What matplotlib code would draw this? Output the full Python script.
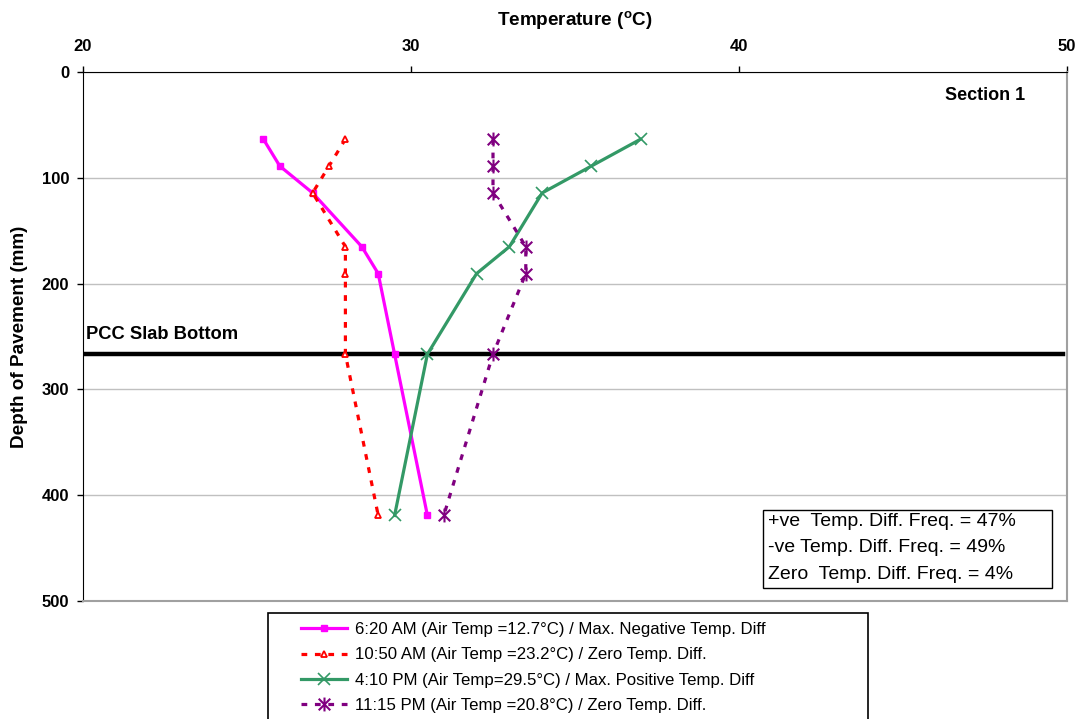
import matplotlib
matplotlib.use("Agg")
import matplotlib.pyplot as plt
from matplotlib.path import Path
from matplotlib.patches import Rectangle

plt.rcParams['font.family'] = ['Liberation Sans', 'DejaVu Sans']

# depths of the sensors (mm)
depth = [63.5, 88.9, 114.3, 165.1, 190.5, 266.7, 419.1]

temp_620am = [25.5, 26.0, 27.0, 28.5, 29.0, 29.5, 30.5]
temp_1050am = [28.0, 27.5, 27.0, 28.0, 28.0, 28.0, 29.0]
temp_410pm = [37.0, 35.5, 34.0, 33.0, 32.0, 30.5, 29.5]
temp_1115pm = [32.5, 32.5, 32.5, 33.5, 33.5, 32.5, 31.0]

labels = [
    "6:20 AM (Air Temp =12.7°C) / Max. Negative Temp. Diff",
    "10:50 AM (Air Temp =23.2°C) / Zero Temp. Diff.",
    "4:10 PM (Air Temp=29.5°C) / Max. Positive Temp. Diff",
    "11:15 PM (Air Temp =20.8°C) / Zero Temp. Diff.",
]

slab_bottom = 266.7
x_ticks = [20, 30, 40, 50]
y_ticks = [0, 100, 200, 300, 400, 500]
freq_text = "+ve  Temp. Diff. Freq. = 47%\n-ve Temp. Diff. Freq. = 49%\nZero  Temp. Diff. Freq. = 4%"

W, H = 1081, 719

# asterisk marker (x with a vertical bar) like the Excel star
star = Path([(-1, -1), (1, 1), (-1, 1), (1, -1), (0, -1.2), (0, 1.2)],
            [Path.MOVETO, Path.LINETO, Path.MOVETO, Path.LINETO, Path.MOVETO, Path.LINETO])

fig = plt.figure(figsize=(10.81, 7.19), dpi=100)
ax = fig.add_axes([83/W, 1 - 601/H, (1067 - 83)/W, (601 - 72)/H])

ax.plot(temp_620am, depth, color='#FF00FF', lw=2.3, marker='s', ms=5, label=labels[0])
ax.plot(temp_1050am, depth, color='#FF0000', lw=2.3, linestyle=(0, (1.8, 2.4)),
        marker='^', ms=5, mfc='white', mew=1.3, label=labels[1])
ax.plot(temp_410pm, depth, color='#339966', lw=2.3, marker='x', ms=9, mew=1.2, label=labels[2])
ax.plot(temp_1115pm, depth, color='#800080', lw=2.3, linestyle=(0, (1.8, 2.4)),
        marker=star, ms=10, mew=1.5, label=labels[3])

ax.axhline(slab_bottom, xmin=0, xmax=0.996, color='black', lw=3.2, zorder=1)
ax.text(20.1, slab_bottom - 11, "PCC Slab Bottom", fontsize=13.2, fontweight='bold', va='bottom')
ax.text(47.5, 22, "Section 1", fontsize=13, fontweight='bold', ha='center', va='center')

ax.set_xlim(20, 50)
ax.set_ylim(500, 0)
ax.set_xticks(x_ticks)
ax.set_yticks(y_ticks)
ax.xaxis.tick_top()
ax.xaxis.set_label_position('top')
ax.tick_params(axis='both', direction='out', length=4, labelsize=12, width=1)
ax.tick_params(axis='x', pad=9)
ax.tick_params(axis='y', pad=6)
for t in ax.get_xticklabels() + ax.get_yticklabels():
    t.set_fontweight('bold')

ax.set_xlabel("Temperature ($\\mathregular{^{o}}$C)", fontsize=13.6, fontweight='bold', labelpad=10)
ax.set_ylabel("Depth of Pavement (mm)", fontsize=13.6, fontweight='bold', labelpad=10)

ax.grid(axis='y', color='#C0C0C0', lw=1)
ax.set_axisbelow(True)
ax.spines['top'].set_color('black')
ax.spines['left'].set_color('black')
ax.spines['right'].set_color('#A0A0A0')
ax.spines['bottom'].set_color('#A0A0A0')
ax.spines['right'].set_linewidth(1.5)
ax.spines['bottom'].set_linewidth(1.5)

# frequency box
fig.patches.append(Rectangle((763/W, 1 - 588/H), (1052 - 763)/W, (588 - 510)/H,
                             transform=fig.transFigure, fc='white', ec='black', lw=1, zorder=3))
fig.text(768/W, 1 - 513/H, freq_text, fontsize=14, va='top', ha='left', linespacing=1.72, zorder=4)

# legend box, runs off the bottom of the image as in the original
fig.patches.append(Rectangle((268/W, 1 - 730/H), (868 - 268)/W, (730 - 613)/H,
                             transform=fig.transFigure, fc='white', ec='black', lw=1.2, zorder=1))
leg = fig.legend(loc='upper left', bbox_to_anchor=(301/W, 1 - 622/H), fontsize=12.1,
                 frameon=False, handlelength=2.75, borderpad=0, labelspacing=0.62,
                 handletextpad=0.45, borderaxespad=0)

fig.savefig("out.png", dpi=100)
